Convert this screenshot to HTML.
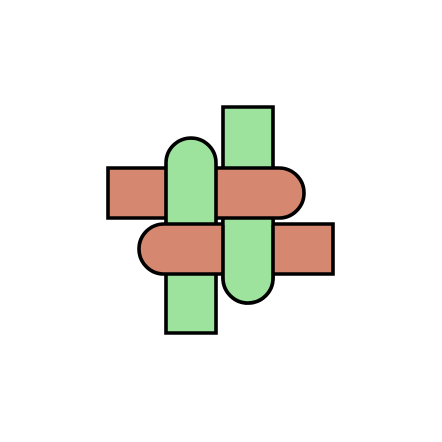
<!DOCTYPE html>
<html><head><meta charset="utf-8"><style>html,body{margin:0;padding:0;background:#fff}svg{display:block}</style></head>
<body>
<svg width="442" height="442" viewBox="0 0 442 442">
<g stroke="#000" stroke-width="3.6" stroke-linejoin="miter">
<path fill="#9de39e" d="M223,107 H273 V278 A25,25 0 0 1 223,278 Z"/>
<path fill="#d5876f" d="M108,168 H279 A25,25 0 0 1 279,218 H108 Z"/>
<path fill="#9de39e" d="M166,333 V163 A25,25 0 0 1 216,163 V333 Z"/>
<path fill="#d5876f" d="M333,224 H164 A25,25 0 0 0 164,274 H333 Z"/>
<path fill="#9de39e" d="M223,220 V278 A25,25 0 0 0 273,278 V220" />
</g>
<rect x="224.8" y="220" width="46.4" height="5" fill="#9de39e"/>
</svg>
</body></html>
